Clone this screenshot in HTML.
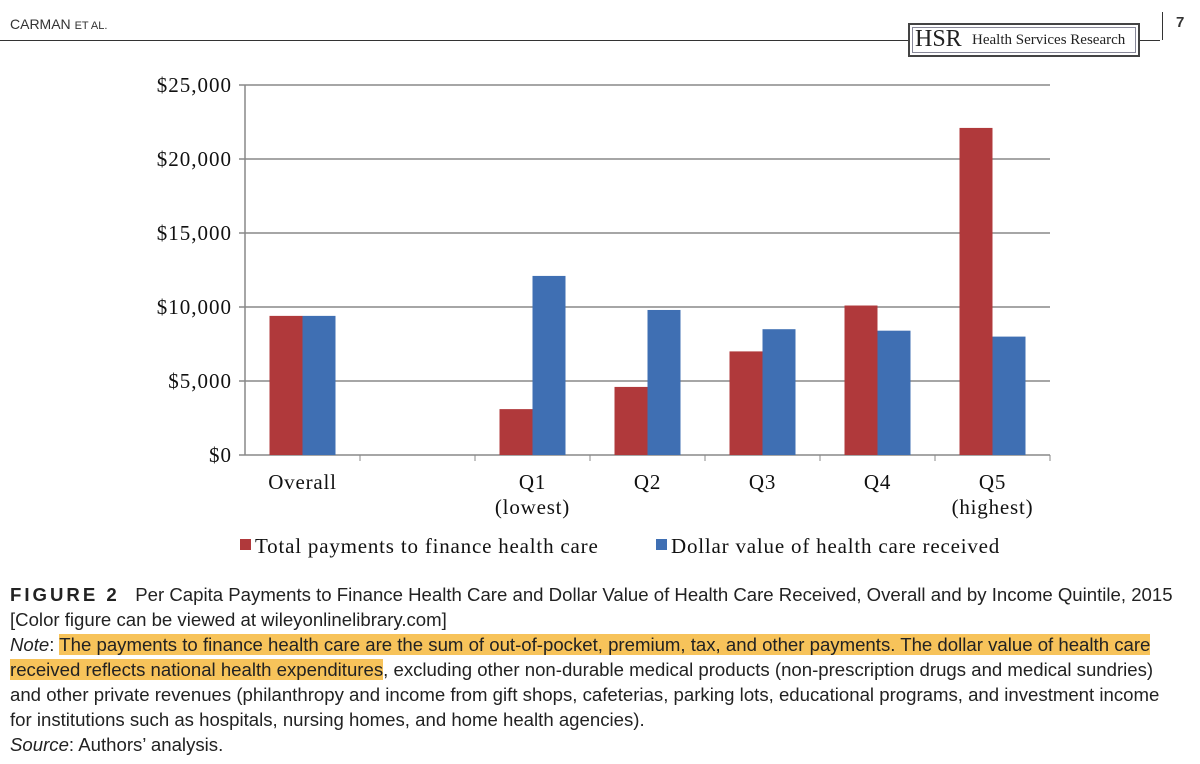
<!DOCTYPE html>
<html><head><meta charset="utf-8"><style>
body{margin:0;width:1200px;height:764px;background:#fff;position:relative;overflow:hidden;font-family:"Liberation Sans",sans-serif;}
.abs{position:absolute;}
.cap{position:absolute;left:10px;font-size:18.6px;color:#222;white-space:nowrap;line-height:25px;}
.hl{background:#f7c35a;}
</style></head><body>
<div class="abs" style="left:10px;top:16px;font-size:14px;color:#333;">CARMAN <span style="font-size:11px">ET AL.</span></div>
<div class="abs" style="left:0;top:40px;width:910px;height:1px;background:#333;"></div>
<div class="abs" style="left:1140px;top:40px;width:20px;height:1px;background:#333;"></div>
<div class="abs" style="left:908px;top:23px;width:228px;height:30px;border:2px solid #444;box-shadow:inset 0 0 0 2px #fff,inset 0 0 0 3px #889;font-family:'Liberation Serif',serif;color:#222;"><span style="font-size:24px;position:absolute;left:5px;top:1px;">HSR</span><span style="font-size:15px;position:absolute;left:62px;top:7px;">Health Services Research</span></div>
<div class="abs" style="left:1162px;top:12px;width:1px;height:28px;background:#333;"></div>
<div class="abs" style="left:1176px;top:14px;font-size:15px;font-weight:bold;color:#333;">7</div>
<svg class="abs" style="left:0;top:0" width="1200" height="570" id="chart"></svg>
<div class="cap" style="top:582px;"><b style="letter-spacing:3px">FIGURE 2</b>&nbsp;&nbsp; Per Capita Payments to Finance Health Care and Dollar Value of Health Care Received, Overall and by Income Quintile, 2015</div>
<div class="cap" style="top:607px;">[Color figure can be viewed at wileyonlinelibrary.com]</div>
<div class="cap" style="top:632px;"><i>Note</i>: <span class="hl">The payments to finance health care are the sum of out-of-pocket, premium, tax, and other payments. The dollar value of health care</span></div>
<div class="cap" style="top:657px;"><span class="hl">received reflects national health expenditures</span>, excluding other non-durable medical products (non-prescription drugs and medical sundries)</div>
<div class="cap" style="top:682px;">and other private revenues (philanthropy and income from gift shops, cafeterias, parking lots, educational programs, and investment income</div>
<div class="cap" style="top:707px;">for institutions such as hospitals, nursing homes, and home health agencies).</div>
<div class="cap" style="top:732px;"><i>Source</i>: Authors’ analysis.</div>
<script>
const categories=["Overall","","Q1|(lowest)","Q2","Q3","Q4","Q5|(highest)"];
const totalPayments=[9400,null,3100,4600,7000,10100,22100];
const valueReceived=[9400,null,12100,9800,8500,8400,8000];
const yTicks=[0,5000,10000,15000,20000,25000];
const tickLabels=["$0","$5,000","$10,000","$15,000","$20,000","$25,000"];
const svg=document.getElementById('chart');const NS="http://www.w3.org/2000/svg";
const L=245,R=1050,T=85,B=455,yMax=25000;
const y=v=>B-(v/yMax)*(B-T);
const bw=(R-L)/categories.length;
const x=i=>L+bw*(i+0.5);
function mk(t,a){const e=document.createElementNS(NS,t);for(const k in a)e.setAttribute(k,a[k]);svg.appendChild(e);return e;}
yTicks.forEach((v,i)=>{
const g=mk('line',{x1:L-6,x2:R,y1:y(v),y2:y(v),stroke:'#888','stroke-width':1.5});


const t=mk('text',{x:L-13,y:y(v)+7,'text-anchor':'end','font-family':'Liberation Serif,serif','font-size':21,'letter-spacing':1,fill:'#111'});t.textContent=tickLabels[i];


});
const ax=mk('line',{x1:L,x2:L,y1:T,y2:B,stroke:'#888','stroke-width':1.5});


categories.forEach((c,i)=>{
const tk=mk('line',{x1:L+bw*(i+1),x2:L+bw*(i+1),y1:B,y2:B+6,stroke:'#888'});


c.split('|').forEach((s,j)=>{if(!s)return;const t=mk('text',{x:x(i),y:B+34+j*25,'text-anchor':'middle','font-family':'Liberation Serif,serif','font-size':21,'letter-spacing':0.8,fill:'#111'});t.textContent=s;

});
if(totalPayments[i]!=null){const r=mk('rect',{x:x(i)-33,y:y(totalPayments[i]),width:33,height:B-y(totalPayments[i]),fill:'#b0393b'});

}
if(valueReceived[i]!=null){const r=mk('rect',{x:x(i),y:y(valueReceived[i]),width:33,height:B-y(valueReceived[i]),fill:'#3f6fb3'});

}
});
const leg=[["#b0393b","Total payments to finance health care",240],["#3f6fb3","Dollar value of health care received",656]];
leg.forEach(l=>{const r=mk('rect',{x:l[2],y:539,width:11,height:11,fill:l[0]});


const t=mk('text',{x:l[2]+15,y:553,'font-family':'Liberation Serif,serif','font-size':21,'letter-spacing':0.8,fill:'#111'});t.textContent=l[1];

});
</script>
</body></html>
